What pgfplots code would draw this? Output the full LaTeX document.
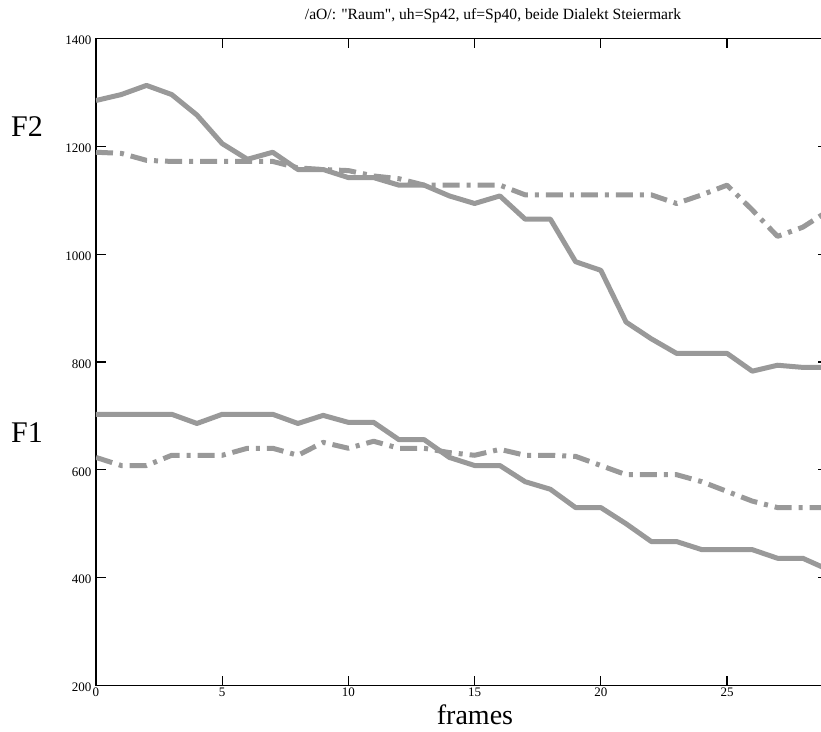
\documentclass[border=0pt]{standalone}
\usepackage{fontspec}
\setmainfont{Liberation Serif}
\usepackage{pgfplots}
\pgfplotsset{compat=1.18}
\definecolor{lc}{RGB}{153,153,153}
\begin{document}
\begin{tikzpicture}
\begin{axis}[
  scale only axis, width=732pt, height=647pt,
  xmin=0, xmax=29, ymin=200, ymax=1400,
  xtick={0,5,10,15,20,25}, ytick={200,400,...,1400},
  tick align=inside, major tick length=10pt,
  axis line style={line width=1.2pt},
  every tick/.style={black, line width=1.2pt},
  /pgf/number format/assume math mode=true,
  /pgf/number format/1000 sep={},
  tick label style={font=\fontsize{13}{15}\selectfont},
  xticklabel style={yshift=-1pt, inner sep=1pt},
  yticklabel style={xshift=-1pt, yshift=-2pt},
]
\addplot[lc, line width=5pt, line join=round, dash pattern=on 17pt off 7pt on 4pt off 7pt] coordinates {
(0,1189)(1,1187)(2,1174)(3,1172)(4,1172)(5,1172)(6,1172)(7,1172)(8,1160)(9,1157)
(10,1155)(11,1145)(12,1140)(13,1128)(14,1128)(15,1128)(16,1128)(17,1110)(18,1110)(19,1110)
(20,1110)(21,1110)(22,1110)(23,1094)(24,1110)(25,1128)(26,1082)(27,1033)(28,1050)(29,1080)};
\addplot[lc, line width=5pt, line join=round, dash pattern=on 17pt off 7pt on 4pt off 7pt] coordinates {
(0,623)(1,608)(2,608)(3,627)(4,627)(5,627)(6,640)(7,640)(8,627)(9,651)
(10,640)(11,653)(12,640)(13,640)(14,632)(15,627)(16,638)(17,627)(18,627)(19,625)
(20,608)(21,591)(22,591)(23,591)(24,578)(25,560)(26,542)(27,530)(28,530)(29,530)};
\addplot[lc, line width=5pt, line join=round] coordinates {
(0,1285)(1,1296)(2,1313)(3,1296)(4,1258)(5,1205)(6,1176)(7,1189)(8,1157)(9,1157)
(10,1142)(11,1142)(12,1128)(13,1128)(14,1108)(15,1094)(16,1108)(17,1065)(18,1065)(19,986)
(20,970)(21,874)(22,843)(23,816)(24,816)(25,816)(26,783)(27,794)(28,790)(29,790)};
\addplot[lc, line width=5pt, line join=round] coordinates {
(0,703)(1,703)(2,703)(3,703)(4,686)(5,703)(6,703)(7,703)(8,686)(9,701)
(10,688)(11,688)(12,656)(13,656)(14,623)(15,608)(16,608)(17,578)(18,564)(19,530)
(20,530)(21,500)(22,467)(23,467)(24,452)(25,452)(26,452)(27,436)(28,436)(29,415)};
\end{axis}
\node[font=\fontsize{15.6}{17}\selectfont] at (397pt,669.5pt) {/aO/: \textquotedbl Raum\textquotedbl, uh=Sp42, uf=Sp40, beide Dialekt Steiermark};
\node[font=\fontsize{30}{32}\selectfont] at (-69pt,558.5pt) {F2};
\node[font=\fontsize{30}{32}\selectfont] at (-69pt,252.5pt) {F1};
\node[font=\fontsize{28}{30}\selectfont, anchor=base, inner sep=0pt] at (379pt,-38.5pt) {frames};
\pgfresetboundingbox
\path[use as bounding box] (-96pt,-45.5pt) rectangle (725pt,685.5pt);
\end{tikzpicture}
\end{document}
